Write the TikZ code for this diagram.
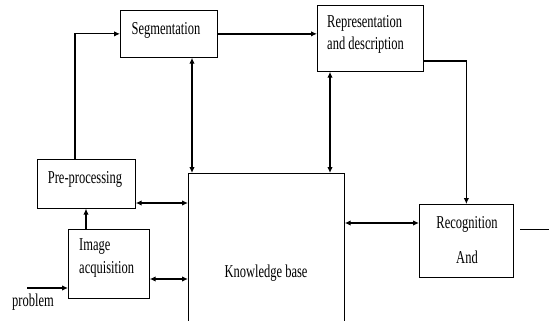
\documentclass[tikz,border=0pt]{standalone}
\usepackage{graphicx}
\usepackage{fontspec}
\setmainfont{Liberation Serif}
\usetikzlibrary{arrows.meta}
\newcommand{\tallt}[1]{\scalebox{1}[1.45]{#1}}
\begin{document}
\begin{tikzpicture}[x=1pt,y=-1pt,
  box/.style={draw, line width=0.7pt, inner sep=0pt, anchor=north west},
  lbl/.style={font=\fontsize{12.5}{14}\selectfont, inner sep=0pt, anchor=base},
  conn/.style={line width=1.1pt, -{Latex[length=6pt,width=5.5pt]}},
  bi/.style={line width=1.2pt, {Latex[length=6pt,width=5.5pt]}-{Latex[length=6pt,width=5.5pt]}}]
\useasboundingbox[fill=white] (0,0) rectangle (549,321);
% boxes
\node[box, minimum width=97pt, minimum height=47pt] (seg) at (120,10) {};
\node[box, minimum width=106pt, minimum height=66pt] (rep) at (317,5) {};
\node[box, minimum width=98pt, minimum height=49pt] (pre) at (37,159) {};
\node[box, minimum width=81pt, minimum height=69pt] (img) at (68,229) {};
\node[box, minimum width=94pt, minimum height=73pt] (rec) at (419,204) {};
\node[box, draw=none, minimum width=156pt, minimum height=148pt] (kb) at (188,173) {};
\draw[line width=0.7pt] (kb.south west) -- (kb.north west) -- (kb.north east) -- (kb.south east);
% texts
\node[lbl] (tseg) at (166,35) {\tallt{Segmentation}};
\node[lbl, anchor=base west] (trep1) at (327,28) {\tallt{Representation}};
\node[lbl, anchor=base west] (trep2) at (327,50) {\tallt{and description}};
\node[lbl] (tpre) at (85,183) {\tallt{Pre-processing}};
\node[lbl, anchor=base west] (timg1) at (79,250) {\tallt{Image}};
\node[lbl, anchor=base west] (timg2) at (79,273) {\tallt{acquisition}};
\node[lbl] (tkb) at (266,277) {\tallt{Knowledge base}};
\node[lbl] (trec1) at (467,228) {\tallt{Recognition}};
\node[lbl] (trec2) at (467,263) {\tallt{And}};
\node[lbl] (tprob) at (33,306) {\tallt{problem}};
% helper coordinates
\coordinate (x75) at (75,0);
\coordinate (x86) at (86,0);
\coordinate (x192) at (192,0);
\coordinate (x330) at (330,0);
\coordinate (y61) at (0,61);
\coordinate (y203) at (0,203);
\coordinate (y223) at (0,223);
\coordinate (y279) at (0,279);
\coordinate (pin) at (27,288);
\coordinate (o1) at (520,229);
\coordinate (o2) at (549,229);
% connectors
\draw[conn] (pre.north -| x75) |- (seg.west);
\draw[conn, line width=1.6pt] (seg.east) -- (seg.east -| rep.west);
\draw[conn] (rep.east |- y61) -| (rec.north);
\draw[bi] (seg.south -| x192) -- (kb.north -| x192);
\draw[bi] (rep.south -| x330) -- (kb.north -| x330);
\draw[bi] (pre.east |- y203) -- (kb.west |- y203);
\draw[conn] (img.north -| x86) -- (pre.south -| x86);
\draw[bi, line width=1.5pt] (img.east |- y279) -- (kb.west |- y279);
\draw[conn] (pin) -- (img.west |- pin);
\draw[bi, line width=1.5pt] (kb.east |- y223) -- (rec.west |- y223);
\draw[line width=1pt] (o1) -- (o2);
\end{tikzpicture}
\end{document}
